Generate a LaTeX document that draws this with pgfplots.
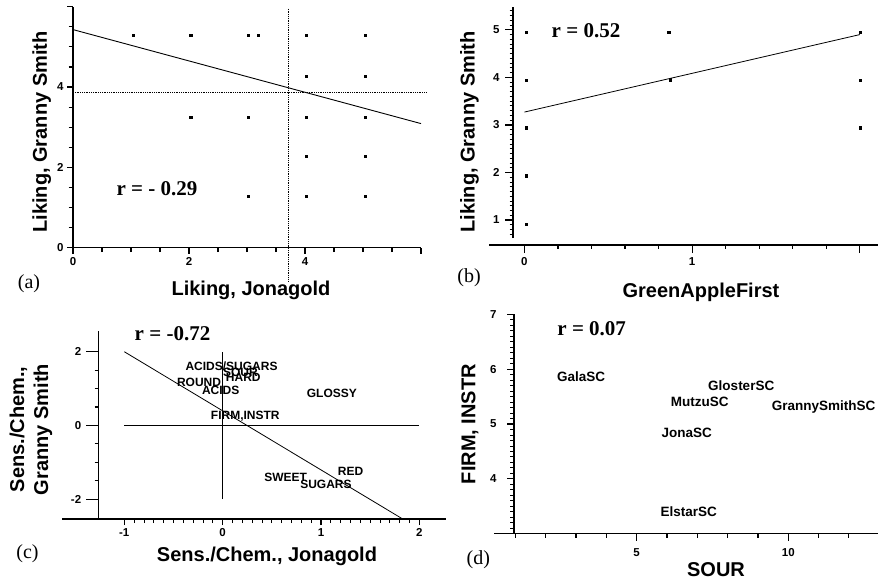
\documentclass[border=0pt]{standalone}
\usepackage{pgfplots}
\pgfplotsset{compat=1.18}
\usepackage{fontspec}
\setmainfont{Liberation Sans}
\newfontfamily\seriffont{Liberation Serif}
\begin{document}
\begin{tikzpicture}
\useasboundingbox (0pt,0pt) rectangle (878pt,-579pt);
\pgfplotsset{
 base/.style={scale only axis, anchor=south west, axis x line*=bottom, axis y line*=left,
   axis line style={-, line width=1.2pt, black},
   tick align=outside, tick style={black, line width=1.2pt},
   ticklabel style={font=\bfseries\fontsize{11.5}{13}\selectfont},
   clip=false, /pgf/number format/assume math mode=true},
 lab/.style={only marks, mark=none, nodes near coords, point meta=explicit symbolic,
   nodes near coords style={anchor=center, inner sep=0pt, text=black}},
}
% ---------------- (a)
\begin{axis}[base, at={(73pt,-247.7pt)}, width=348pt, height=241pt,
  xmin=0, xmax=6, ymin=0, ymax=6,
  xtick={0,2,4,6}, xticklabels={0,2,4,{}},
  ytick={0,2,4,6}, yticklabels={0,2,4,{}},
  minor xtick={0.5,1,1.5,2.5,3,3.5,4.5,5,5.5},
  minor ytick={0.5,1,1.5,2.5,3,3.5,4.5,5,5.5},
  major tick length=6pt, minor tick length=4.5pt]
\addplot[black, line width=0.8pt, densely dotted] coordinates {(3.72,5.95) (3.72,-0.84)};
\addplot[black, line width=0.8pt, densely dotted] coordinates {(0,3.86) (6.10,3.86)};
\addplot[black, line width=0.9pt] coordinates {(0,5.43) (6,3.09)};
\addplot[only marks, mark=square*, mark size=1.1pt, black] table {
x y
1.04 5.29
2.03 5.29
3.02 5.29
3.19 5.29
4.02 5.29
5.04 5.29
4.02 4.26
5.04 4.26
2.03 3.25
3.02 3.25
4.02 3.25
5.04 3.25
4.02 2.28
5.04 2.28
3.02 1.29
4.02 1.29
5.04 1.29
};
\end{axis}
% ---------------- (b)
\begin{axis}[base, at={(513pt,-245pt)}, width=365pt, height=238pt,
  xmin=-0.068, xmax=2.108, ymin=0.474, ymax=5.48,
  y axis line style={draw=none},
  xtick={0,1,2}, xticklabels={0,1,{}},
  minor xtick={0.2,0.4,0.6,0.8,1.2,1.4,1.6,1.8},
  ytick={1,2,3,4,5},
  minor ytick={0.7,0.8,0.9,1.1,1.2,1.3,1.4,1.5,1.6,1.7,1.8,1.9,2.1,2.2,2.3,2.4,2.5,2.6,2.7,2.8,2.9,3.1,3.2,3.3,3.4,3.5,3.6,3.7,3.8,3.9,4.1,4.2,4.3,4.4,4.5,4.6,4.7,4.8,4.9,5.1,5.2,5.3,5.4},
  major tick length=8pt, minor tick length=3.5pt,
  minor y tick style={line width=0.8pt},
  yticklabel style={xshift=-2pt}, xticklabel style={yshift=-1pt}]
\draw[line width=1.2pt] (axis cs:-0.068,0.62) -- (axis cs:-0.068,5.48);
\draw[line width=1.2pt] (axis cs:-0.21,0.474) -- (axis cs:-0.068,0.474);
\addplot[black, line width=0.8pt] coordinates {(0,3.27) (2,4.90)};
\addplot[only marks, mark=square*, mark size=1.1pt, black] table {
x y
0.01 4.95
0.01 3.94
0.01 2.94
0.01 1.93
0.01 0.92
0.86 4.95
0.87 3.95
2.00 4.95
2.00 3.94
2.00 2.94
};
\end{axis}
% ---------------- (c)
\begin{axis}[base, at={(98.7pt,-519pt)}, width=347.3pt, height=188.3pt,
  xmin=-1.26, xmax=2.27, ymin=-2.54, ymax=2.57,
  xtick={-1,0,1,2},
  minor xtick={-0.9,-0.8,-0.7,-0.6,-0.5,-0.4,-0.3,-0.2,-0.1,0.1,0.2,0.3,0.4,0.5,0.6,0.7,0.8,0.9,1.1,1.2,1.3,1.4,1.5,1.6,1.7,1.8,1.9},
  ytick={-2,0,2}, minor ytick={-1.5,-1,-0.5,0.5,1,1.5},
  major tick length=6pt, minor tick length=4pt,
  minor x tick style={line width=0.9pt},
  yticklabel style={xshift=-8pt}]
\draw[line width=1.2pt] (axis cs:-1.63,-2.54) -- (axis cs:-1.26,-2.54);
\draw[line width=1.2pt] (axis cs:-1.26,-2) -- ++(-13pt,0pt);
\draw[line width=1.2pt] (axis cs:-1.26,0) -- ++(-13pt,0pt);
\draw[line width=1.2pt] (axis cs:-1.26,2) -- ++(-13pt,0pt);
\addplot[black, line width=0.8pt] coordinates {(0,-2) (0,2)};
\addplot[black, line width=0.8pt] coordinates {(-1,0) (2,0)};
\addplot[black, line width=0.8pt] coordinates {(-1,2) (1.83,-2.54)};
\addplot[lab, nodes near coords style={font=\bfseries\fontsize{12}{13}\selectfont}] table[meta=label] {
x y label
0.09 1.61 ACIDS/SUGARS
0.18 1.43 SOUR
0.21 1.30 HARD
-0.24 1.16 ROUND
-0.02 0.96 ACIDS
1.11 0.87 GLOSSY
0.23 0.25 FIRM,INSTR
1.30 -1.26 RED
0.64 -1.41 SWEET
1.05 -1.60 SUGARS
};
\end{axis}
% ---------------- (d)
\begin{axis}[base, at={(514pt,-533.7pt)}, width=364pt, height=219.4pt,
  xmin=0.956, xmax=12.96, ymin=3, ymax=7,
  xtick={5,10}, minor xtick={1,2,3,4,6,7,8,9,11,12},
  ytick={4,5,6,7},
  minor ytick={3.1,3.2,3.3,3.4,3.5,3.6,3.7,3.8,3.9,4.1,4.2,4.3,4.4,4.5,4.6,4.7,4.8,4.9,5.1,5.2,5.3,5.4,5.5,5.6,5.7,5.8,5.9,6.1,6.2,6.3,6.4,6.5,6.6,6.7,6.8,6.9},
  major tick length=7pt, minor tick length=4pt,
  minor y tick style={line width=0.9pt},
  yticklabel style={xshift=-7pt}, xticklabel style={yshift=-4pt}]
\draw[line width=1.2pt] (axis cs:0.31,3) -- (axis cs:0.956,3);
\addplot[lab, nodes near coords style={font=\bfseries\fontsize{13.5}{15}\selectfont}] table[meta=label] {
x y label
3.17 5.86 GalaSC
8.45 5.70 GlosterSC
7.08 5.41 MutzuSC
11.17 5.31 GrannySmithSC
6.65 4.83 JonaSC
6.72 3.41 ElstarSC
};
\end{axis}
% ---------------- texts
\def\axlab{\bfseries\fontsize{20}{24}\selectfont}
\def\rlab{\seriffont\bfseries\fontsize{21}{24}\selectfont}
\def\plab{\seriffont\fontsize{20}{24}\selectfont}
\node[anchor=center, rotate=90, font=\axlab] at (41.7pt,-132pt) {Liking, Granny Smith};
\node[anchor=base, font=\axlab] at (251pt,-295pt) {Liking, Jonagold};
\node[anchor=center, rotate=90, font=\axlab] at (469.5pt,-132pt) {Liking, Granny Smith};
\node[anchor=base, font=\axlab] at (701pt,-297pt) {GreenAppleFirst};
\node[anchor=center, rotate=90, font=\axlab, align=center] at (31pt,-429.5pt) {Sens./Chem.,\\Granny Smith};
\node[anchor=base, font=\axlab] at (267pt,-561pt) {Sens./Chem., Jonagold};
\node[anchor=center, rotate=90, font=\axlab] at (470pt,-424pt) {FIRM, INSTR};
\node[anchor=base, font=\axlab] at (716pt,-576pt) {SOUR};
\node[anchor=base, font=\rlab] at (157pt,-195pt) {r = - 0.29};
\node[anchor=base, font=\rlab] at (586pt,-37pt) {r = 0.52};
\node[anchor=base, font=\rlab] at (172.5pt,-340pt) {r = -0.72};
\node[anchor=base, font=\rlab] at (591.7pt,-335pt) {r = 0.07};
\node[anchor=base, font=\plab] at (29pt,-288pt) {(a)};
\node[anchor=base, font=\plab] at (469pt,-282pt) {(b)};
\node[anchor=base, font=\plab] at (27.5pt,-558pt) {(c)};
\node[anchor=base, font=\plab] at (478.3pt,-564pt) {(d)};
\end{tikzpicture}
\end{document}
